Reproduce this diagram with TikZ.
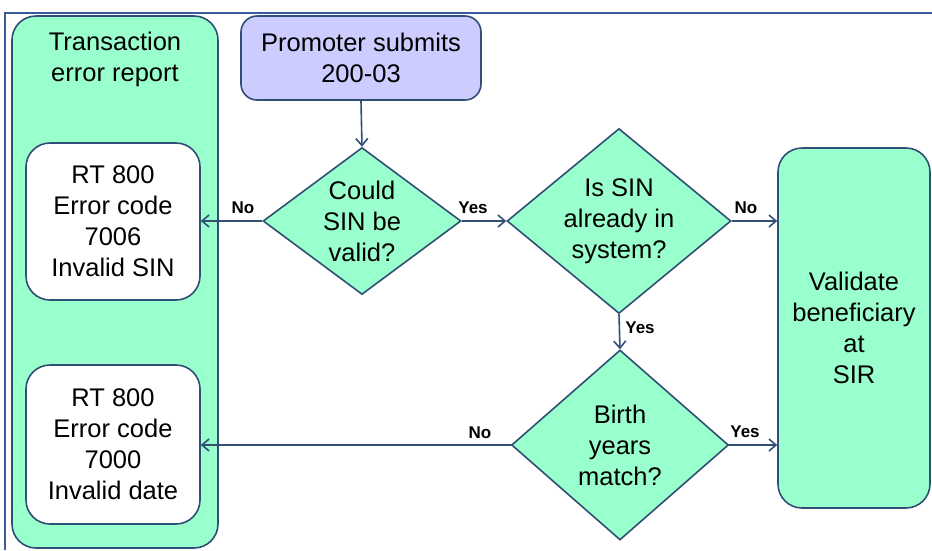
\documentclass[tikz,border=0pt]{standalone}
\usepackage{fontspec}
\setmainfont{Liberation Sans}
\usetikzlibrary{shapes.geometric,arrows.meta}
\definecolor{mint}{HTML}{99FFCC}
\definecolor{lav}{HTML}{CCCCFF}
\definecolor{edge}{HTML}{2F4F76}
\definecolor{frame}{HTML}{3A5A9A}
\tikzset{
  every node/.style={font=\fontsize{25.5}{31}\selectfont, text=black},
  rbox/.style={draw=edge, line width=1.6pt, rounded corners=24pt, align=center, inner sep=0pt},
  dia/.style={draw=edge, line width=1.6pt, fill=mint, shape=diamond, inner sep=0pt, aspect=1},
  flow/.style={draw=edge, line width=1.6pt, -{Straight Barb[length=7pt,width=12pt,line width=1.6pt]}},
  yn/.style={font=\fontsize{17}{19}\selectfont\bfseries, inner sep=0pt}
}
\begin{document}
\begin{tikzpicture}[x=1pt,y=-1pt]
\useasboundingbox (0,0) rectangle (932,550);
% frame
\draw[frame, line width=2pt] (5,550) -- (5,13) -- (932,13);
% left column
\node[rbox, fill=mint, minimum width=206pt, minimum height=532pt,
  label={[anchor=north, align=center, yshift=-13pt]north:Transaction\\error report}] (col) at (115,282) {};
\node[rbox, fill=white, minimum width=174pt, minimum height=157pt] (e1) at (113,221.5) {RT 800\\Error code\\7006\\Invalid SIN};
\node[rbox, fill=white, minimum width=174pt, minimum height=159pt] (e2) at (113,444.5) {RT 800\\Error code\\7000\\Invalid date};
% promoter
\node[rbox, fill=lav, rounded corners=16pt, minimum width=240pt, minimum height=84pt] (pr) at (361,58) {Promoter submits\\200-03};
% diamonds
\node[dia, minimum width=198pt, minimum height=147pt,
  label={[align=center]center:Could\\SIN be\\valid?}] (d1) at (362,221) {};
\node[dia, minimum width=224pt, minimum height=185pt,
  label={[align=center]center:Is SIN\\already in\\system?}] (d2) at (619,221) {};
\node[dia, minimum width=217pt, minimum height=190pt,
  label={[align=center]center:Birth\\years\\match?}] (d3) at (620,445) {};
% right box
\node[rbox, fill=mint, minimum width=152pt, minimum height=360pt] (vb) at (854,328) {Validate\\beneficiary\\at\\SIR};
% connectors
\draw[flow] (pr.south) -- (d1.north);
\draw[flow] (d1.west) -- (d1.west -| e1.east);
\draw[flow] (d1.east) -- (d2.west);
\draw[flow] (d2.east) -- (d2.east -| vb.west);
\draw[flow] (d2.south) -- (d3.north);
\draw[flow] (d3.west) -- (d3.west -| e2.east);
\draw[flow] (d3.east) -- (d3.east -| vb.west);
% labels
\node[yn] (l1) at (243,208) {No};
\node[yn] (l2) at (473,208) {Yes};
\node[yn] (l3) at (746,208) {No};
\node[yn] (l4) at (640,328) {Yes};
\node[yn] (l5) at (480,433) {No};
\node[yn] (l6) at (745,432) {Yes};
\end{tikzpicture}
\end{document}
